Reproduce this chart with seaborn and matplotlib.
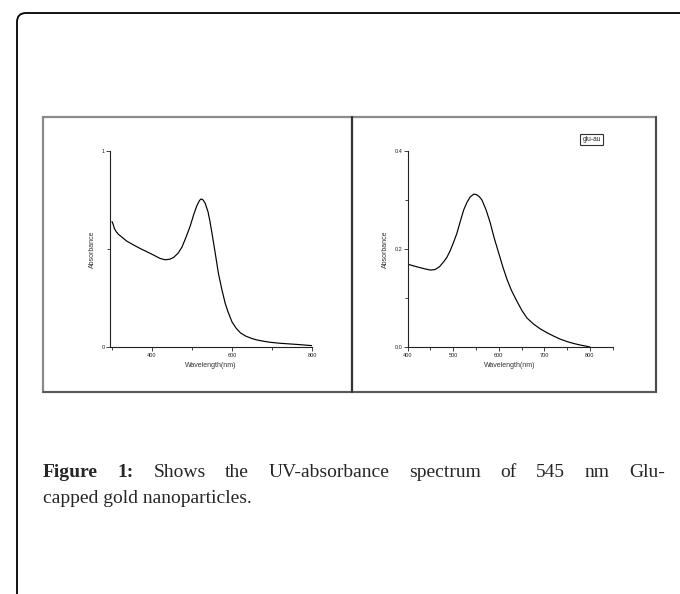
import numpy as np
import pandas as pd
import seaborn as sns
import matplotlib.pyplot as plt
from matplotlib.patches import FancyBboxPatch, Rectangle
from matplotlib.ticker import MultipleLocator

# left panel: absorbance spectrum (full range)
wl_left = [300, 303, 306, 310, 316, 325, 337, 350, 370, 390, 404, 420, 433, 445, 454, 465,
           475, 485, 495, 505, 512, 518, 522, 527, 533, 540, 545, 550, 558, 566, 575, 583,
           590, 600, 610, 621, 635, 650, 662, 680, 696, 720, 763, 800]
abs_left = [0.64, 0.625, 0.605, 0.59, 0.575, 0.56, 0.54, 0.525, 0.503, 0.483, 0.469, 0.452,
            0.445, 0.448, 0.457, 0.478, 0.51, 0.56, 0.614, 0.68, 0.72, 0.745, 0.755, 0.752,
            0.733, 0.69, 0.64, 0.58, 0.48, 0.376, 0.29, 0.223, 0.18, 0.128, 0.097, 0.072,
            0.055, 0.043, 0.036, 0.029, 0.024, 0.019, 0.013, 0.007]

# right panel: glu-au
wl_right = [400, 415, 427, 440, 450, 460, 470, 479, 486, 493, 500, 508, 515, 523, 530, 537,
            545, 551, 557, 563, 572, 581, 590, 600, 609, 618, 628, 640, 651, 662, 676, 691,
            706, 721, 735, 750, 765, 779, 790, 800]
abs_right = [0.169, 0.165, 0.162, 0.159, 0.157, 0.158, 0.164, 0.174, 0.183, 0.196, 0.212,
             0.232, 0.255, 0.28, 0.295, 0.306, 0.312, 0.311, 0.307, 0.30, 0.28, 0.254, 0.222,
             0.191, 0.163, 0.138, 0.115, 0.093, 0.074, 0.059, 0.047, 0.037, 0.029, 0.022,
             0.016, 0.011, 0.007, 0.004, 0.002, 0.0]

legend_label = "glu-au"
caption_bold = ["Figure", "1:"]
caption_line1 = "Shows the UV-absorbance spectrum of 545 nm Glu-".split()
caption_line2 = "capped gold nanoparticles."

sns.set_style("ticks")
plt.rcParams['font.family'] = ['Liberation Sans', 'DejaVu Sans']

W, H = 680, 594
fig = plt.figure(figsize=(W / 100, H / 100), dpi=100)

# page background: rounded frame, figure box, caption
bg = fig.add_axes([0, 0, 1, 1], zorder=0)
bg.set_xlim(0, W)
bg.set_ylim(H, 0)
bg.axis('off')
bg.add_patch(FancyBboxPatch((17, 13), 720, 640, boxstyle="round,pad=0,rounding_size=9",
                            fc='none', ec='black', lw=1.3))
bg.add_patch(Rectangle((43, 117), 613, 275, fc='white', ec='#8a8a8a', lw=1.6))
bg.plot([656, 656], [117, 392], color='#444', lw=1.3)
bg.plot([43, 656], [392, 392], color='#555', lw=1.3)
bg.plot([352, 352], [117, 392], color='#333', lw=1.6)

# justified first caption line
serif = ['Liberation Serif', 'DejaVu Serif']
cap_size = 14
tokens = [(w, 'bold') for w in caption_bold] + [(w, 'normal') for w in caption_line1]
texts = [bg.text(0, 477, w, fontsize=cap_size, fontweight=fw, family=serif, va='baseline')
         for w, fw in tokens]
fig.canvas.draw()
r = fig.canvas.get_renderer()
inv = bg.transData.inverted()
widths = []
for t in texts:
    bb = t.get_window_extent(r)
    widths.append(inv.transform((bb.x1, 0))[0] - inv.transform((bb.x0, 0))[0])
x_start, x_end = 43, 665
gap = (x_end - x_start - sum(widths)) / (len(texts) - 1)
x = x_start
for t, w in zip(texts, widths):
    t.set_x(x)
    x += w + gap
bg.text(x_start, 503, caption_line2, fontsize=cap_size, family=serif, va='baseline')


def style_axes(ax):
    sns.despine(ax=ax)
    for s in ['left', 'bottom']:
        ax.spines[s].set_linewidth(0.8)
        ax.spines[s].set_color('#222')
    ax.tick_params(which='both', direction='out', width=0.6, labelsize=4, pad=1,
                   colors='#222')
    ax.tick_params(which='major', length=3)
    ax.tick_params(which='minor', length=2)
    ax.set_facecolor('none')
    ax.set_xlabel('Wavelength(nm)', fontsize=5, labelpad=3, color='#333')
    ax.set_ylabel('Absorbance', fontsize=5, labelpad=4, color='#333')


axL = fig.add_axes([110 / W, 1 - 347 / H, 202 / W, 196 / H], zorder=2)
sns.lineplot(x=wl_left, y=abs_left, ax=axL, color='black', lw=0.85, sort=False, estimator=None)
axL.set_xlim(295, 800)
axL.set_ylim(0, 1)
axL.set_xticks([400, 600, 800])
axL.xaxis.set_minor_locator(MultipleLocator(100))
axL.set_yticks([0, 1])
axL.set_yticklabels(['0', '1'])
axL.yaxis.set_minor_locator(MultipleLocator(0.5))
style_axes(axL)

axR = fig.add_axes([407.7 / W, 1 - 347 / H, 205 / W, 196 / H], zorder=2)
sns.lineplot(x=wl_right, y=abs_right, ax=axR, color='black', lw=0.85, sort=False,
             estimator=None, label=legend_label)
axR.set_xlim(400, 850)
axR.set_ylim(0, 0.4)
axR.set_xticks([400, 500, 600, 700, 800])
axR.xaxis.set_minor_locator(MultipleLocator(50))
axR.set_yticks([0.0, 0.2, 0.4])
axR.set_yticklabels(['0.0', '0.2', '0.4'])
axR.yaxis.set_minor_locator(MultipleLocator(0.1))
style_axes(axR)
leg = axR.legend(loc='upper left', bbox_to_anchor=(577 / W, 1 - 131 / H),
                 bbox_transform=fig.transFigure, fontsize=4.8, handlelength=0,
                 handletextpad=0, borderpad=0.3, fancybox=False, framealpha=1,
                 edgecolor='#333')
leg.get_frame().set_linewidth(0.8)
for h in leg.legend_handles:
    h.set_visible(False)

fig.savefig('out.png', dpi=100)
